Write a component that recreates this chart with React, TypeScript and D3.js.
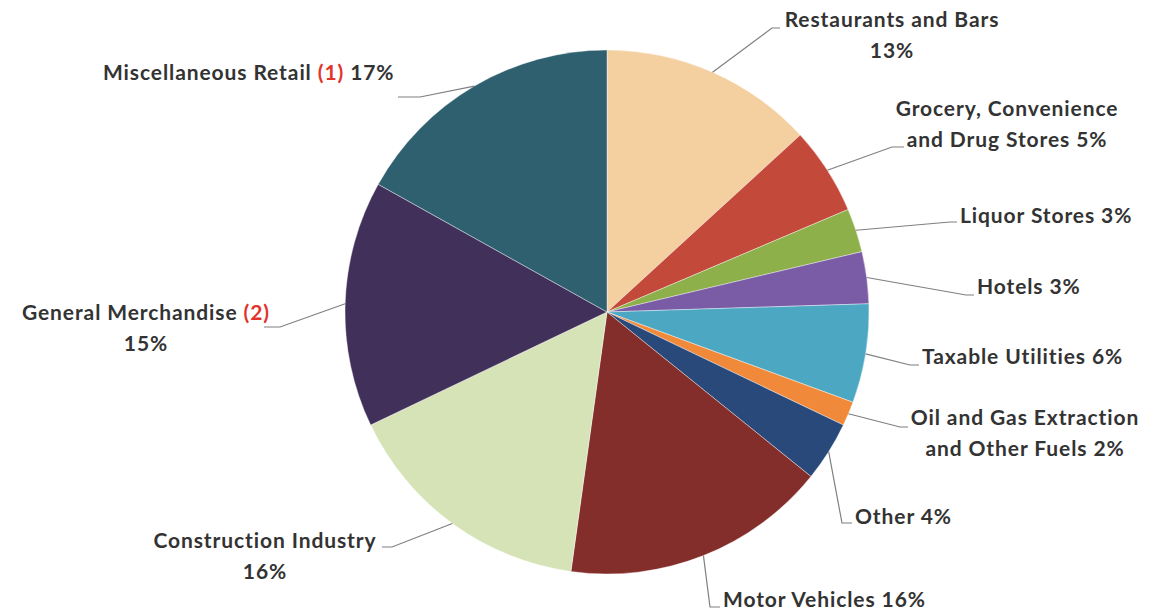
import React from "react";
import * as d3 from "d3";

// slice data, clockwise from 12 o'clock
const categories = [
  "Restaurants and Bars",
  "Grocery, Convenience and Drug Stores",
  "Liquor Stores",
  "Hotels",
  "Taxable Utilities",
  "Oil and Gas Extraction and Other Fuels",
  "Other",
  "Motor Vehicles",
  "Construction Industry",
  "General Merchandise",
  "Miscellaneous Retail",
];
const shares = [13.2, 5.4, 2.7, 3.2, 6.1, 1.5, 3.7, 16.4, 15.7, 15.2, 16.9];
const pctLabels = ["13%", "5%", "3%", "3%", "6%", "2%", "4%", "16%", "16%", "15%", "17%"];
const notes = ["", "", "", "", "", "", "", "", "", "(2)", "(1)"];

const colors = [
  "#F4CFA0",
  "#C3493A",
  "#8DB04B",
  "#7A5BA5",
  "#4CA7C3",
  "#F08A3A",
  "#29497A",
  "#832E2A",
  "#D6E3B7",
  "#40305A",
  "#2E6070",
];

// label placement: anchor, x, first baseline, words on line 1, leader elbow, tail end
const labelLayout = [
  { anchor: "middle", x: 892, y: 27, brk: 3, elbow: [772, 28], tail: 780 },
  { anchor: "middle", x: 1007, y: 116, brk: 2, elbow: [892, 147], tail: 904 },
  { anchor: "start", x: 960, y: 223, brk: 99, elbow: [950, 222], tail: 957 },
  { anchor: "start", x: 977, y: 294, brk: 99, elbow: [966, 295], tail: 974 },
  { anchor: "start", x: 922, y: 364, brk: 99, elbow: [910, 365], tail: 919 },
  { anchor: "middle", x: 1025, y: 425, brk: 4, elbow: [900, 427], tail: 908 },
  { anchor: "start", x: 855, y: 524, brk: 99, elbow: [842, 523], tail: 852 },
  { anchor: "start", x: 723, y: 607, brk: 99, elbow: [710, 607], tail: 720 },
  { anchor: "middle", x: 265, y: 548, brk: 2, elbow: [392, 547], tail: 382 },
  { anchor: "middle", x: 146, y: 320, brk: 3, elbow: [280, 327], tail: 264 },
  { anchor: "start", x: 103, y: 80, brk: 99, elbow: [420, 97], tail: 398 },
];

const width = 1156;
const height = 612;
const cx = 607;
const cy = 312;
const radius = 262;
const lineH = 31;

const App: React.FC = () => {
  const pie = d3
    .pie<number>()
    .sort(null)
    .value((d) => d)(shares);
  const arc = d3.arc<d3.PieArcDatum<number>>().innerRadius(0).outerRadius(radius);

  return (
    <svg
      width={width}
      height={height}
      style={{ position: "absolute", left: 0, top: 0, background: "#fff" }}
      fontFamily="Lato, 'Open Sans', sans-serif"
      fontWeight={700}
      fontSize={21}
      letterSpacing={0.9}
    >
      <g transform={`translate(${cx},${cy})`}>
        {pie.map((s, i) => (
          <path key={i} d={arc(s) || ""} fill={colors[i]} stroke="#fff" strokeWidth={0.4} />
        ))}
      </g>

      {pie.map((s, i) => {
        const lay = labelLayout[i];
        const mid = (s.startAngle + s.endAngle) / 2;
        const sx = cx + radius * Math.sin(mid);
        const sy = cy - radius * Math.cos(mid);
        const pts = [
          [sx, sy],
          [lay.elbow[0], lay.elbow[1]],
          [lay.tail, lay.elbow[1]],
        ] as [number, number][];
        return (
          <path
            key={"l" + i}
            d={d3.line()(pts) || ""}
            fill="none"
            stroke="#7f7f7f"
            strokeWidth={1.2}
          />
        );
      })}

      {categories.map((name, i) => {
        const lay = labelLayout[i];
        const tokens = name.split(" ").map((t) => ({ t, red: false }));
        if (notes[i]) tokens.push({ t: notes[i], red: true });
        tokens.push({ t: pctLabels[i], red: false });
        const lines = [tokens.slice(0, lay.brk), tokens.slice(lay.brk)].filter((l) => l.length);
        return (
          <g key={"t" + i}>
            {lines.map((ln, j) => (
              <text
                key={j}
                x={lay.x}
                y={lay.y + j * lineH}
                textAnchor={lay.anchor as any}
                fill="#333"
                style={{ whiteSpace: "pre" }}
              >
                {ln.map((tk, k) => (
                  <tspan key={k} fill={tk.red ? "#E2342B" : "#333"}>
                    {tk.t + (k < ln.length - 1 ? " " : "")}
                  </tspan>
                ))}
              </text>
            ))}
          </g>
        );
      })}
    </svg>
  );
};

export default App;
